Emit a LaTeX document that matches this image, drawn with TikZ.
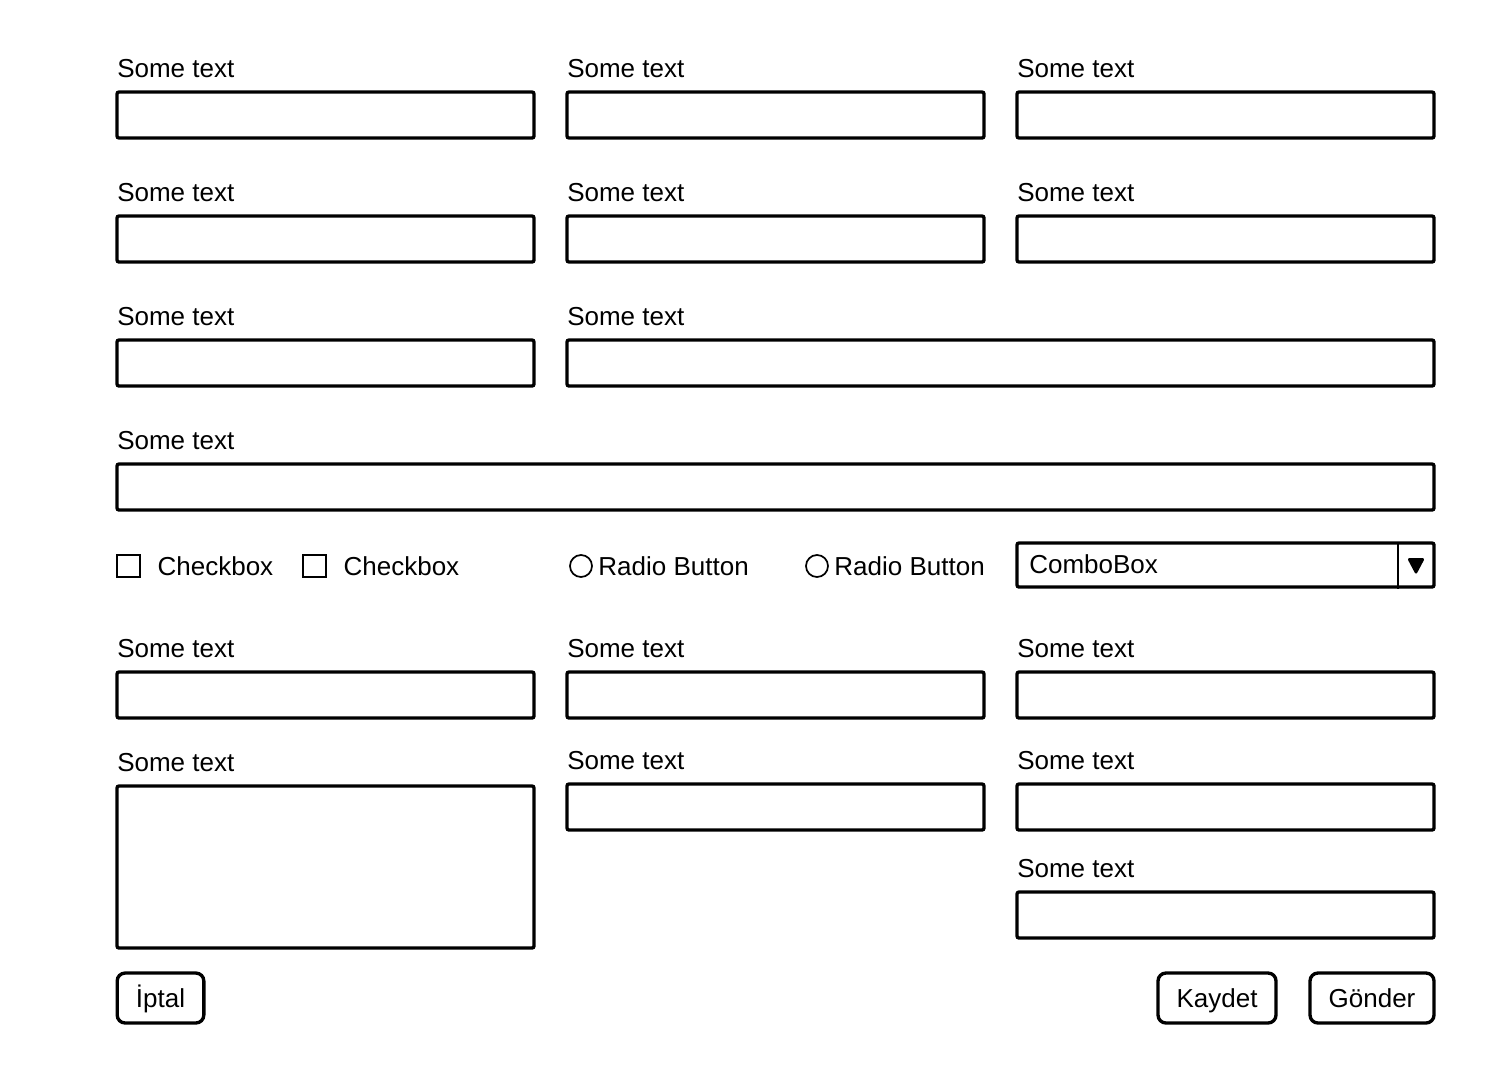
\documentclass[tikz,border=0pt]{standalone}
\usepackage{fontspec}
\setmainfont{Liberation Sans}
\usetikzlibrary{fit}
\usetikzlibrary{positioning}

\begin{document}
\begin{tikzpicture}[x = 0.75pt, y = -0.75pt,
  field/.style = {draw, line width = 2.5pt, rounded corners = 1.5pt, inner sep = 0pt},
  caption/.style = {anchor = base west, inner sep = 0pt, font = \fontsize{19.5}{23}\selectfont},
  option/.style = {anchor = west, inner sep = 0pt, font = \fontsize{19.5}{23}\selectfont},
  tickbox/.style = {draw, line width = 1.3pt, minimum size = 17pt, inner sep = 0pt},
  radio/.style = {draw, circle, line width = 1.3pt, minimum size = 16.5pt, inner sep = 0pt},
  button/.style = {draw, line width = 2.5pt, rounded corners = 6pt, inner sep = 0pt,
    minimum height = 37.5pt, text height = 16.5pt, text depth = 2pt,
    font = \fontsize{19.5}{23}\selectfont}]
  \useasboundingbox (0, 0) rectangle (1510, 1072);

  % text fields with their captions
  \foreach \name/\xa/\ya/\xb/\yb in {
      f11/117/92/534/138, f12/567/92/984/138, f13/1017/92/1434/138,
      f21/117/216/534/262, f22/567/216/984/262, f23/1017/216/1434/262,
      f31/117/340/534/386, f32/567/340/1434/386,
      f41/117/464/1434/510,
      f61/117/672/534/718, f62/567/672/984/718, f63/1017/672/1434/718,
      f71/117/786/534/948, f72/567/784/984/830, f73/1017/784/1434/830,
      f83/1017/892/1434/938} {
    \node[field, fit = {(\xa, \ya) (\xb, \yb)}] (\name) {};
    \node[caption] (\name-text) at (\xa, \ya - 15) {Some text};
  }

  % checkboxes and radio buttons
  \node[tickbox] (cb1) at (128.5, 566) {};
  \node[option, right = 12.5pt of cb1] (cb1-text) {Checkbox};
  \node[tickbox] (cb2) at (314.5, 566) {};
  \node[option, right = 12.5pt of cb2] (cb2-text) {Checkbox};
  \node[radio] (rb1) at (581, 566) {};
  \node[option, right = 4pt of rb1] (rb1-text) {Radio Button};
  \node[radio] (rb2) at (817, 566) {};
  \node[option, right = 4pt of rb2] (rb2-text) {Radio Button};

  % combo box
  \node[field, fit = {(1017, 543) (1434, 587)}] (combo) {};
  \node[option] (combo-text) at (1029, 564) {ComboBox};
  \coordinate (split) at (1398, 543);
  \draw[line width = 1.6pt] (split) -- (split |- combo.south);
  \fill[rounded corners = 2pt] (1407, 558) -- (1425, 558) -- (1416, 575) -- cycle;

  % buttons
  \node[button, minimum width = 65pt] (cancel) at (160.5, 998) {İptal};
  \node[button, minimum width = 88.5pt] (save) at (1217, 998) {Kaydet};
  \node[button, minimum width = 93pt] (send) at (1372, 998) {Gönder};
\end{tikzpicture}
\end{document}
